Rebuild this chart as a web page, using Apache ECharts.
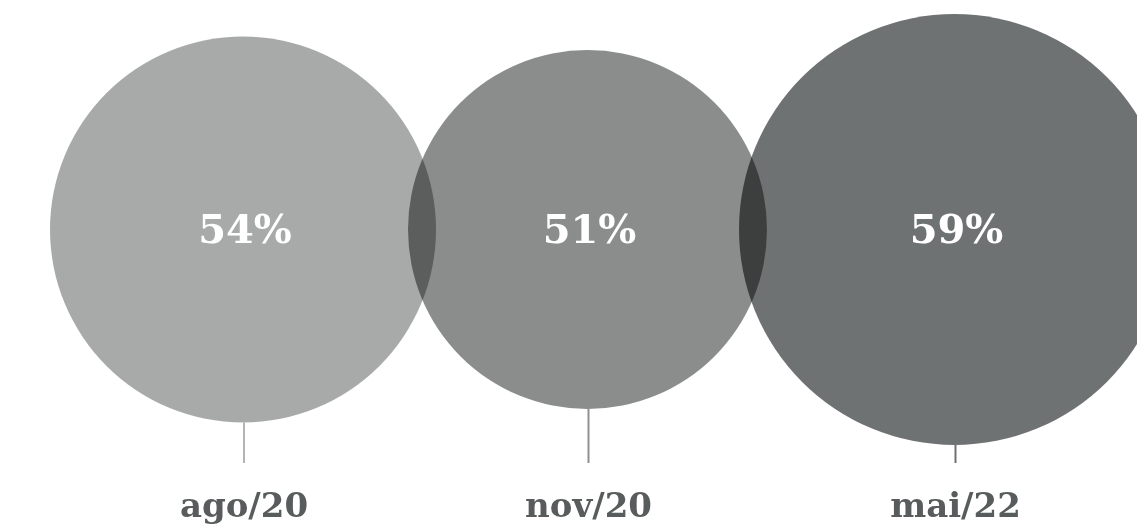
<!DOCTYPE html>
<html>
<head>
<meta charset="utf-8">
<script src="https://cdn.jsdelivr.net/npm/echarts@6/dist/echarts.min.js"></script>
<style>
html,body{margin:0;padding:0;background:#fff;}
#chart{width:1137px;height:531px;}
</style>
</head>
<body>
<div id="chart"></div>
<script>
// ---- data ----
const categories = ['ago/20', 'nov/20', 'mai/22'];
const values = [54, 51, 59];
const valueLabels = ['54%', '51%', '59%'];

// ---- styling / layout ----
const colors = ['#a8aaa9', '#8b8d8c', '#6f7273'];
const tickColors = ['#b3b5b4', '#8f9190', '#6f7273'];
const CY = 229.5;      // circle centre line (px)
const TICK_END = 463;  // bottom of the connector ticks (px)
const CAT_Y = 508;     // category label centre (px)
const X0 = 243;        // centre of first circle (px)
const OVERLAP = 28;    // overlap between neighbouring circles (px)
const radius = v => 4.5 * v - 50;

function centerX(i) {
  let x = X0;
  for (let k = 1; k <= i; k++) {
    x += radius(values[k - 1]) + radius(values[k]) - OVERLAP;
  }
  return x;
}

const seriesData = values.map((v, i) => [i, v]);

const chart = echarts.init(document.getElementById('chart'), null, {renderer: 'canvas'});
chart.setOption({
  animation: false,
  backgroundColor: '#ffffff',
  grid: {left: 0, right: 0, top: 0, bottom: 0},
  xAxis: {type: 'value', min: 0, max: 1137, show: false},
  yAxis: {type: 'value', min: 0, max: 531, inverse: true, show: false},
  series: [
    {
      type: 'custom',
      clip: false,
      blendMode: 'multiply',
      data: seriesData,
      renderItem: function (params, api) {
        const i = params.dataIndex;
        const r = radius(api.value(1));
        const c = api.coord([centerX(i), CY]);
        return {
          type: 'circle',
          shape: {cx: c[0], cy: c[1], r: r},
          style: {fill: colors[i]}
        };
      }
    },
    {
      type: 'custom',
      clip: false,
      data: seriesData,
      renderItem: function (params, api) {
        const i = params.dataIndex;
        const r = radius(api.value(1));
        const c = api.coord([centerX(i), CY]);
        const bottom = api.coord([centerX(i), CY + r]);
        const tickEnd = api.coord([centerX(i), TICK_END]);
        const catPos = api.coord([centerX(i), CAT_Y]);
        return {
          type: 'group',
          children: [
            {
              type: 'line',
              shape: {x1: c[0] + 1, y1: bottom[1], x2: c[0] + 1, y2: tickEnd[1]},
              style: {stroke: tickColors[i], lineWidth: 2}
            },
            {
              type: 'text',
              style: {
                text: valueLabels[i],
                x: c[0] + 2, y: c[1] + 3,
                align: 'center', verticalAlign: 'middle',
                fill: '#ffffff',
                font: 'bold 40px "DejaVu Serif", "Liberation Serif", serif'
              }
            },
            {
              type: 'text',
              style: {
                text: categories[i],
                x: catPos[0] + 1, y: catPos[1],
                align: 'center', verticalAlign: 'middle',
                fill: '#585c5c',
                font: 'bold 34px "DejaVu Serif", "Liberation Serif", serif'
              }
            }
          ]
        };
      }
    }
  ]
});
</script>
</body>
</html>
